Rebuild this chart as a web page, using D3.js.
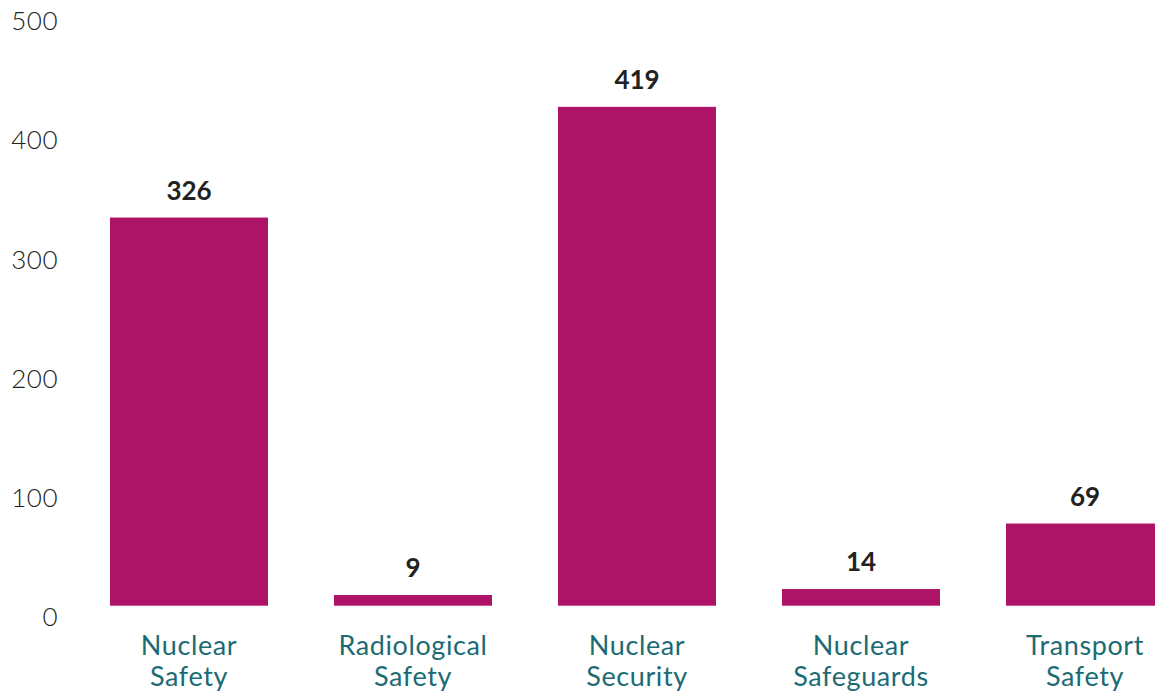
<!DOCTYPE html>
<html>
<head>
<meta charset="utf-8">
<script src="https://cdn.jsdelivr.net/npm/d3@7"></script>
<style>
  html, body { margin: 0; padding: 0; background: #fff; overflow: hidden; }
  svg { display: block; }
</style>
</head>
<body>
<svg id="chart" width="1155" height="693"></svg>
<script>
const categories = [["Nuclear", "Safety"], ["Radiological", "Safety"], ["Nuclear", "Security"], ["Nuclear", "Safeguards"], ["Transport", "Safety"]];
const values = [326, 9, 419, 14, 69];
const yTicks = [0, 100, 200, 300, 400, 500];

const svg = d3.select("#chart");
const font = "Lato, 'Open Sans', sans-serif";

const x = d3.scaleBand()
  .domain(d3.range(categories.length))
  .range([77, 1197])
  .paddingInner(0.2946)
  .paddingOuter(0.1473);

const y = d3.scaleLinear().domain([0, 500]).range([605.7, 10.4]);

// y tick labels
svg.append("g").selectAll("text")
  .data(yTicks)
  .join("text")
  .attr("x", 58)
  .attr("y", d => y(d) + 20)
  .attr("text-anchor", "end")
  .attr("font-family", font)
  .attr("font-weight", 300)
  .attr("font-size", 26)
  .attr("letter-spacing", 0.5)
  .attr("fill", "#222")
  .text(d => d);

// bars
svg.append("g").selectAll("rect")
  .data(values)
  .join("rect")
  .attr("x", (d, i) => x(i))
  .attr("y", d => y(d))
  .attr("width", x.bandwidth())
  .attr("height", d => y(0) - y(d))
  .attr("fill", "#ad1468");

// value labels
svg.append("g").selectAll("text")
  .data(values)
  .join("text")
  .attr("x", (d, i) => x(i) + x.bandwidth() / 2)
  .attr("y", d => y(d) - 18)
  .attr("text-anchor", "middle")
  .attr("font-family", font)
  .attr("font-weight", 700)
  .attr("font-size", 26)
  .attr("fill", "#222")
  .text(d => d);

// category labels
const cat = svg.append("g").selectAll("text")
  .data(categories)
  .join("text")
  .attr("text-anchor", "middle")
  .attr("font-family", font)
  .attr("font-size", 27)
  .attr("letter-spacing", 0.6)
  .attr("fill", "#1c6b74");
cat.each(function(d, i) {
  const t = d3.select(this);
  d.forEach((line, j) => {
    t.append("tspan")
      .attr("x", x(i) + x.bandwidth() / 2)
      .attr("y", 655 + j * 31)
      .text(line);
  });
});
</script>
</body>
</html>
